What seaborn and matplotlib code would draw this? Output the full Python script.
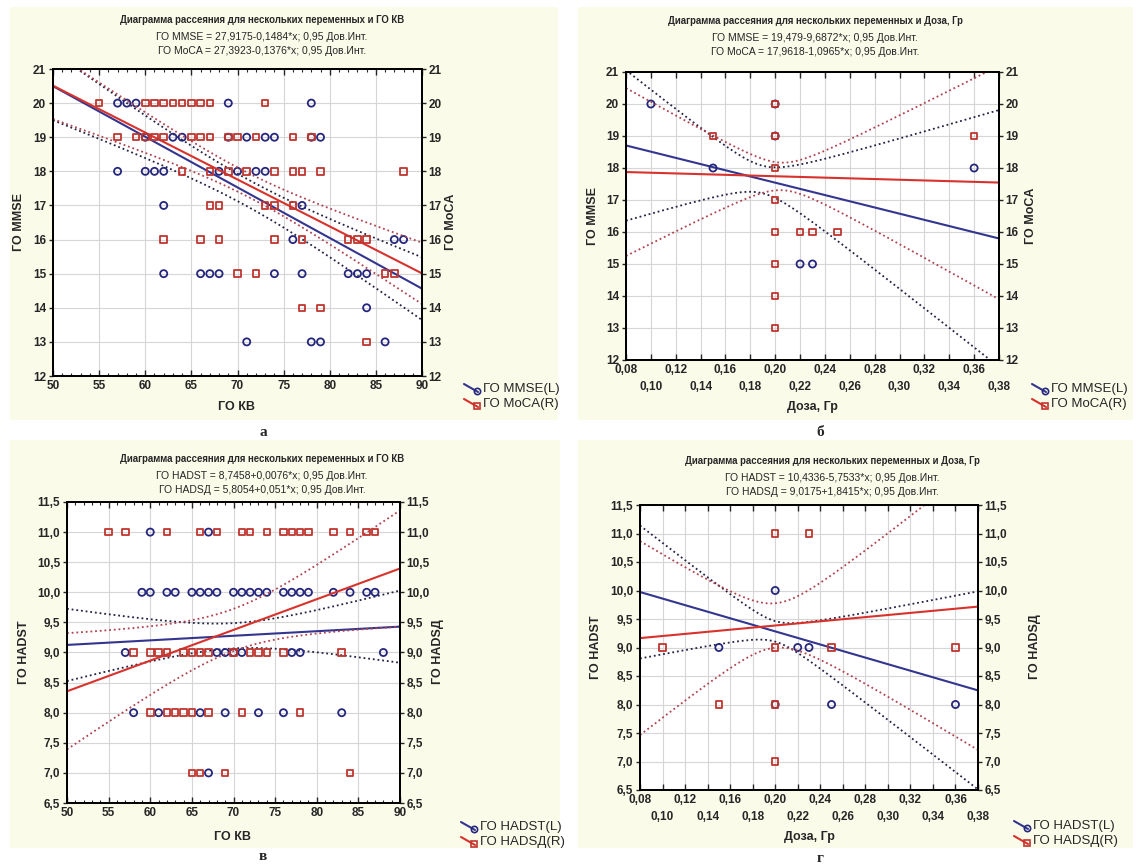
import numpy as np
import matplotlib
matplotlib.use('Agg')
import matplotlib.pyplot as plt
import seaborn as sns
from matplotlib.lines import Line2D
from matplotlib.patches import Rectangle
from matplotlib.ticker import MultipleLocator

sns.set_style('white')
plt.rcParams['font.family'] = ['Liberation Sans Narrow', 'Liberation Sans', 'DejaVu Sans']

# а) ГО КВ -> ГО MMSE (L) и ГО MoCA (R)
mmse_kv_x = [57, 58, 59, 69, 78,
             60, 63, 64, 69, 71, 73, 74, 78, 79,
             57, 60, 61, 62, 68, 70, 72, 73,
             62, 77,
             76, 87, 88,
             62, 66, 67, 68, 74, 77, 82, 83, 84,
             84,
             71, 78, 79, 86]
mmse_kv_y = [20, 20, 20, 20, 20,
             19, 19, 19, 19, 19, 19, 19, 19, 19,
             18, 18, 18, 18, 18, 18, 18, 18,
             17, 17,
             16, 16, 16,
             15, 15, 15, 15, 15, 15, 15, 15, 15,
             14,
             13, 13, 13, 13]
moca_kv_x = [55, 60, 61, 62, 63, 64, 65, 66, 67, 73,
             57, 59, 60, 61, 62, 65, 66, 67, 69, 70, 72, 76, 78,
             64, 67, 69, 71, 74, 76, 77, 79, 88,
             67, 68, 73, 74, 76,
             62, 66, 68, 74, 77, 82, 83, 84,
             70, 72, 86, 87,
             77, 79,
             84]
moca_kv_y = [20, 20, 20, 20, 20, 20, 20, 20, 20, 20,
             19, 19, 19, 19, 19, 19, 19, 19, 19, 19, 19, 19, 19,
             18, 18, 18, 18, 18, 18, 18, 18, 18,
             17, 17, 17, 17, 17,
             16, 16, 16, 16, 16, 16, 16, 16,
             15, 15, 15, 15,
             14, 14,
             13]

# б) Доза, Гр -> ГО MMSE (L) и ГО MoCA (R)
mmse_dose_x = [0.10, 0.15, 0.20, 0.20, 0.22, 0.23, 0.36]
mmse_dose_y = [20, 18, 20, 19, 15, 15, 18]
moca_dose_x = [0.15, 0.20, 0.20, 0.20, 0.20, 0.20, 0.20, 0.20, 0.20, 0.22, 0.23, 0.25, 0.36]
moca_dose_y = [19, 20, 19, 18, 17, 16, 15, 14, 13, 16, 16, 16, 19]

# в) ГО КВ -> ГО HADST (L) и ГО HADSД (R)
hadst_kv_x = [60, 67,
              59, 60, 62, 63, 65, 66, 67, 68, 70, 71, 72, 73, 74, 76, 77, 78, 79, 82, 84, 86, 87,
              57, 68, 69, 70, 71, 77, 78, 88,
              58, 61, 66, 69, 73, 76, 83,
              67]
hadst_kv_y = [11, 11,
              10, 10, 10, 10, 10, 10, 10, 10, 10, 10, 10, 10, 10, 10, 10, 10, 10, 10, 10, 10, 10,
              9, 9, 9, 9, 9, 9, 9, 9,
              8, 8, 8, 8, 8, 8, 8,
              7]
hadsd_kv_x = [55, 57, 62, 66, 68, 71, 72, 74, 76, 77, 78, 79, 82, 84, 86, 87,
              58, 60, 61, 62, 64, 65, 66, 67, 70, 72, 73, 74, 76, 83,
              60, 62, 63, 64, 65, 67, 71, 78,
              65, 66, 69, 84]
hadsd_kv_y = [11, 11, 11, 11, 11, 11, 11, 11, 11, 11, 11, 11, 11, 11, 11, 11,
              9, 9, 9, 9, 9, 9, 9, 9, 9, 9, 9, 9, 9, 9,
              8, 8, 8, 8, 8, 8, 8, 8,
              7, 7, 7, 7]

# г) Доза, Гр -> ГО HADST (L) и ГО HADSД (R)
hadst_dose_x = [0.20, 0.15, 0.22, 0.23, 0.20, 0.25, 0.36]
hadst_dose_y = [10, 9, 9, 9, 8, 8, 8]
hadsd_dose_x = [0.20, 0.23, 0.10, 0.20, 0.25, 0.36, 0.15, 0.20, 0.20]
hadsd_dose_y = [11, 11, 9, 9, 9, 9, 8, 8, 7]

# регрессия из подписей: свободный член, наклон
mmse_kv_fit = [27.9175, -0.1484]
moca_kv_fit = [27.3923, -0.1376]
mmse_dose_fit = [19.479, -9.6872]
moca_dose_fit = [17.9618, -1.0965]
hadst_kv_fit = [8.7458, 0.0076]
hadsd_kv_fit = [5.8054, 0.051]
hadst_dose_fit = [10.4336, -5.7533]
hadsd_dose_fit = [9.0175, 1.8415]

# 0,95 доверительная полоса: центр по x, мин. полуширина, рост
mmse_kv_ci = [71, 0.40, 0.0436]
moca_kv_ci = [71, 0.35, 0.0436]
mmse_dose_ci = [0.19, 0.43, 21.0]
moca_dose_ci = [0.205, 0.43, 20.7]
hadst_kv_ci = [70, 0.21, 0.0281]
hadsd_kv_ci = [70, 0.35, 0.045]
hadst_dose_ci = [0.20, 0.18, 9.6]
hadsd_dose_ci = [0.20, 0.39, 13.8]

W, H = 1137, 868
BLUE = '#25267d'
BLUE_LINE = '#33358f'
BLUE_DOT = '#222244'
RED = '#c0352f'
RED_LINE = '#d8322c'
RED_DOT = '#b0424f'
CREAM = '#fbfbea'


def fx(x):
    return x / W


def fy(y):
    return 1 - y / H


def rect(l, t, r, b):
    return [l / W, 1 - b / H, (r - l) / W, (b - t) / H]


def comma(v, nd):
    return f'{v:.{nd}f}'.replace('.', ',')


def eq(name, fit):
    a, b = fit
    sign = '+' if b >= 0 else '-'
    return f'{name} = {str(a).replace(".", ",")}{sign}{str(abs(b)).replace(".", ",")}*x; 0,95 Дов.Инт.'


fig = plt.figure(figsize=(W / 100, H / 100), dpi=100)
fig.patch.set_facecolor('white')

for l, t, r, b in [(10, 7, 558, 420), (578, 7, 1133, 420), (10, 440, 560, 848), (578, 440, 1133, 848)]:
    fig.add_artist(Rectangle((fx(l), fy(b)), (r - l) / W, (b - t) / H, transform=fig.transFigure,
                             facecolor=CREAM, edgecolor='none', zorder=-5))


def panel(box, xlim, ylim, xticks, xlabels, yticks, ylabels, left, right, minor, stagger):
    ax = fig.add_axes(rect(*box))
    ax2 = ax.twinx()
    xx = np.linspace(xlim[0], xlim[1], 300)
    series = [(ax, left, BLUE, BLUE_LINE, BLUE_DOT, 'o', 26),
              (ax2, right, RED, RED_LINE, RED_DOT, 's', 22)]
    for axis, (xs, ys, fit, ci), mcol, lcol, dcol, mk, size in series:
        yy = fit[0] + fit[1] * xx
        hw = np.sqrt(ci[1] ** 2 + (ci[2] * (xx - ci[0])) ** 2)
        sns.lineplot(x=xx, y=yy + hw, ax=axis, color=dcol, lw=1.3, linestyle=(0, (1, 1.6)))
        sns.lineplot(x=xx, y=yy - hw, ax=axis, color=dcol, lw=1.3, linestyle=(0, (1, 1.6)))
        sns.lineplot(x=xx, y=yy, ax=axis, color=lcol, lw=1.5)
        sns.scatterplot(x=xs, y=ys, ax=axis, marker=mk, s=size, color=mcol,
                        facecolor='none', edgecolor=mcol, linewidth=1.3, zorder=4)
    for a in (ax, ax2):
        a.set_xlim(xlim)
        a.set_ylim(ylim)
        a.set_xlabel('')
        a.set_ylabel('')
        for s in a.spines.values():
            s.set_color('black')
            s.set_linewidth(1.3)
    ax.set_xticks(xticks)
    ax.set_xticklabels(xlabels, fontsize=8.5, fontweight='bold')
    ax.set_yticks(yticks)
    ax.set_yticklabels(ylabels, fontsize=8.5, fontweight='bold')
    ax2.set_yticks(yticks)
    ax2.set_yticklabels(ylabels, fontsize=8.5, fontweight='bold')
    ax.grid(True, color='#d6d6d6', lw=0.8)
    ax2.grid(False)
    ax.xaxis.set_ticks_position('both')
    ax.tick_params(axis='x', which='major', direction='in', length=4, width=1, pad=3,
                   top=True, bottom=True, labeltop=False)
    ax.tick_params(axis='y', direction='out', length=3, width=1, pad=2)
    ax2.tick_params(axis='y', direction='out', length=3, width=1, pad=1.5)
    if minor:
        ax.xaxis.set_minor_locator(MultipleLocator(minor))
        ax.tick_params(axis='x', which='minor', direction='in', length=2.5, width=0.8,
                       top=True, bottom=True)
    if stagger:
        # Statistica-style two rows of x tick labels
        for i, t in enumerate(ax.xaxis.get_major_ticks()):
            if i % 2:
                t.set_pad(15)
    return ax


def legend(x, y, lab1, lab2):
    for i, (col, mk, lab) in enumerate([(BLUE_LINE, 'o', lab1), (RED_LINE, 's', lab2)]):
        yy = y + 15 * i
        fig.add_artist(Line2D([fx(x), fx(x + 14)], [fy(yy - 5), fy(yy + 3)], transform=fig.transFigure,
                              color=col, lw=1.5))
        fig.add_artist(Line2D([fx(x + 13)], [fy(yy + 2)], transform=fig.transFigure, marker=mk,
                              ms=4.5, mfc='none', mec=BLUE if mk == 'o' else RED, mew=1.2, ls='none'))
        fig.text(fx(x + 19), fy(yy), lab, fontsize=9.5, va='center', ha='left')


def titles(cx, y0, var, eq1, eq2):
    fig.text(fx(cx), fy(y0), 'Диаграмма рассеяния для нескольких переменных и ' + var,
             fontsize=6.9, fontweight='bold', ha='center', va='center')
    fig.text(fx(cx), fy(y0 + 17), eq1, fontsize=7.5, ha='center', va='center')
    fig.text(fx(cx), fy(y0 + 31), eq2, fontsize=7.5, ha='center', va='center')


kv_ticks = list(range(50, 91, 5))
kv_labels = [str(v) for v in kv_ticks]
dose_ticks = [0.08 + 0.02 * i for i in range(16)]
dose_labels = [comma(v, 2) for v in dose_ticks]
score_ticks = list(range(12, 22))
score_labels = [str(v) for v in score_ticks]
hads_ticks = [6.5 + 0.5 * i for i in range(11)]
hads_labels = [comma(v, 1) for v in hads_ticks]

# а
panel((53, 69, 422, 376), (50, 90), (12, 21), kv_ticks, kv_labels, score_ticks, score_labels,
      (mmse_kv_x, mmse_kv_y, mmse_kv_fit, mmse_kv_ci), (moca_kv_x, moca_kv_y, moca_kv_fit, moca_kv_ci),
      1, False)
titles(262, 20, 'ГО КВ', eq('ГО MMSE', mmse_kv_fit), eq('ГО MoCA', moca_kv_fit))
fig.text(fx(237), fy(407), 'ГО КВ', fontsize=9, fontweight='bold', ha='center', va='center')
fig.text(fx(19), fy(222), 'ГО MMSE', fontsize=9, fontweight='bold', rotation=90, ha='center', va='center')
fig.text(fx(451), fy(222), 'ГО MoCA', fontsize=9, fontweight='bold', rotation=90, ha='center', va='center')
legend(464, 389, 'ГО MMSE(L)', 'ГО MoCA(R)')

# б
panel((626, 72, 999, 360), (0.08, 0.38), (12, 21), dose_ticks, dose_labels, score_ticks, score_labels,
      (mmse_dose_x, mmse_dose_y, mmse_dose_fit, mmse_dose_ci),
      (moca_dose_x, moca_dose_y, moca_dose_fit, moca_dose_ci), None, True)
titles(815, 21, 'Доза, Гр', eq('ГО MMSE', mmse_dose_fit), eq('ГО MoCA', moca_dose_fit))
fig.text(fx(812), fy(407), 'Доза, Гр', fontsize=9, fontweight='bold', ha='center', va='center')
fig.text(fx(593), fy(216), 'ГО MMSE', fontsize=9, fontweight='bold', rotation=90, ha='center', va='center')
fig.text(fx(1031), fy(216), 'ГО MoCA', fontsize=9, fontweight='bold', rotation=90, ha='center', va='center')
legend(1032, 389, 'ГО MMSE(L)', 'ГО MoCA(R)')

# в
panel((67, 502, 400, 803), (50, 90), (6.5, 11.5), kv_ticks, kv_labels, hads_ticks, hads_labels,
      (hadst_kv_x, hadst_kv_y, hadst_kv_fit, hadst_kv_ci),
      (hadsd_kv_x, hadsd_kv_y, hadsd_kv_fit, hadsd_kv_ci), 1, False)
titles(262, 459, 'ГО КВ', eq('ГО HADST', hadst_kv_fit), eq('ГО HADSД', hadsd_kv_fit))
fig.text(fx(233), fy(837), 'ГО КВ', fontsize=9, fontweight='bold', ha='center', va='center')
fig.text(fx(24), fy(652), 'ГО HADST', fontsize=9, fontweight='bold', rotation=90, ha='center', va='center')
fig.text(fx(438), fy(652), 'ГО HADSД', fontsize=9, fontweight='bold', rotation=90, ha='center', va='center')
legend(461, 827, 'ГО HADST(L)', 'ГО HADSД(R)')

# г
panel((640, 505, 978, 790), (0.08, 0.38), (6.5, 11.5), dose_ticks, dose_labels, hads_ticks, hads_labels,
      (hadst_dose_x, hadst_dose_y, hadst_dose_fit, hadst_dose_ci),
      (hadsd_dose_x, hadsd_dose_y, hadsd_dose_fit, hadsd_dose_ci), None, True)
titles(832, 461, 'Доза, Гр', eq('ГО HADST', hadst_dose_fit), eq('ГО HADSД', hadsd_dose_fit))
fig.text(fx(809), fy(837), 'Доза, Гр', fontsize=9, fontweight='bold', ha='center', va='center')
fig.text(fx(596), fy(647), 'ГО HADST', fontsize=9, fontweight='bold', rotation=90, ha='center', va='center')
fig.text(fx(1035), fy(647), 'ГО HADSД', fontsize=9, fontweight='bold', rotation=90, ha='center', va='center')
legend(1014, 826, 'ГО HADST(L)', 'ГО HADSД(R)')

for lab, x, y in [('а', 263, 432), ('б', 820, 432), ('в', 263, 857), ('г', 820, 858)]:
    fig.text(fx(x), fy(y), lab, fontsize=11, fontweight='bold', family=['Liberation Serif', 'DejaVu Serif'],
             ha='center', va='center')

fig.savefig('out.png', dpi=100, facecolor='white')
